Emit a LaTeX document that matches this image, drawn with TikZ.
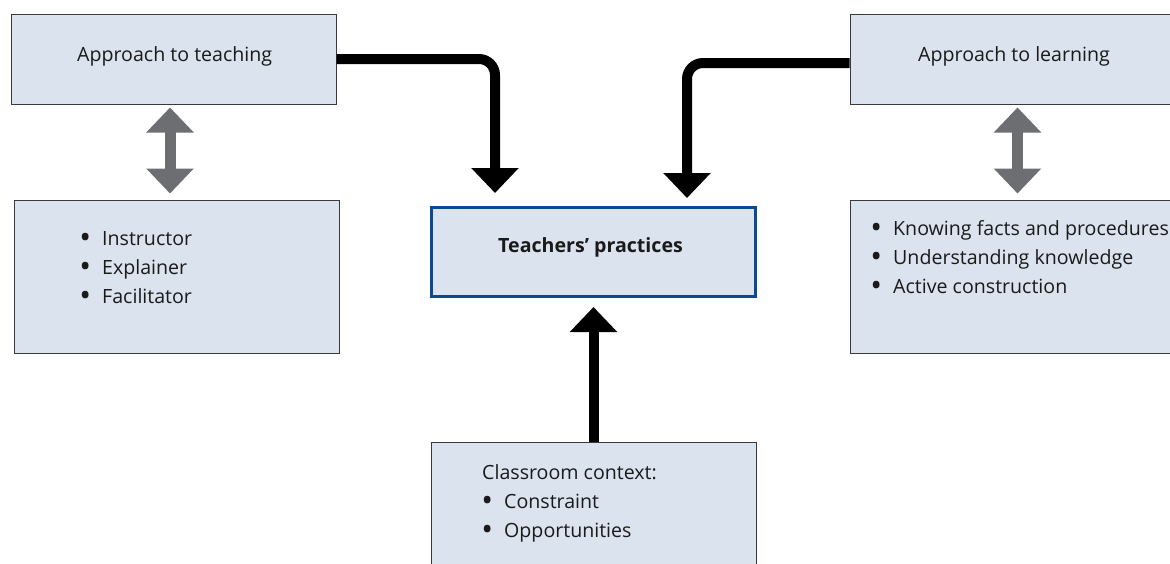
\documentclass[tikz,border=0pt]{standalone}
\usepackage{fontspec}
\setmainfont{Open Sans}
\usetikzlibrary{arrows.meta}
\definecolor{boxfill}{HTML}{DAE3EE}
\definecolor{boxline}{HTML}{3A3A3A}
\definecolor{pracblue}{HTML}{0B4A93}
\definecolor{twogray}{HTML}{6D6E71}
\definecolor{ink}{HTML}{1A1A1A}
\tikzstyle{panel}=[draw=boxline, fill=boxfill, line width=1pt, inner sep=0pt, minimum width=325pt]
\tikzstyle{label}=[anchor=base west, inner sep=0pt, text=ink, font=\fontsize{19.6}{23}\selectfont]
\tikzstyle{feed}=[line width=10pt, rounded corners=16pt, -{Triangle[width=46pt,length=25pt]}]
\tikzstyle{mutual}=[draw=twogray, line width=11pt, {Triangle[width=46pt,length=25pt]}-{Triangle[width=46pt,length=25pt]}]
\newcommand{\bul}{\llap{\raisebox{-3.5pt}{\scalebox{1.6}{\textbullet}}\hspace{11pt}}}

\begin{document}
\begin{tikzpicture}[x=1pt,y=-1pt]
				\clip (0,0) rectangle (1170,563);
				% boxes
				\node[panel, minimum height=90pt] (teach) at (173.5,59) {};
				\node[panel, minimum height=90pt, minimum width=335pt] (learn) at (1017.5,59) {};
				\node[panel, minimum height=153pt] (roles) at (176.5,276.5) {};
				\node[panel, minimum height=153pt, minimum width=335pt] (kinds) at (1017.5,276.5) {};
				\node[panel, draw=pracblue, line width=3pt, minimum width=324pt, minimum height=89pt] (prac) at (593.5,252) {};
				\node[panel, minimum height=160pt] (ctx) at (593.5,522) {};
				% texts
				\node[label] (teachtxt) at (77,61) {Approach to teaching};
				\node[label] (learntxt) at (918,61) {Approach to learning};
				\node[label, font=\fontsize{19.6}{23}\bfseries] (practxt) at (498,252) {Teachers’ practices};
				\node[label] (r1) at (102,245) {\bul Instructor};
				\node[label] (r2) at (102,274) {\bul Explainer};
				\node[label] (r3) at (102,303) {\bul Facilitator};
				\node[label] (k1) at (893,235) {\bul Knowing facts and procedures};
				\node[label] (k2) at (893,264) {\bul Understanding knowledge};
				\node[label] (k3) at (893,293) {\bul Active construction};
				\node[label] (c0) at (482,479) {Classroom context:};
				\node[label] (c1) at (504,508) {\bul Constraint};
				\node[label] (c2) at (504,537) {\bul Opportunities};
				% arrows
				\draw[feed] (teach.east) -| ([xshift=-98.5pt, yshift=13pt]prac.north);
				\draw[feed] ([yshift=-4pt]learn.west) -| ([xshift=93.5pt, yshift=8pt]prac.north);
				\draw[feed, shorten >=9pt] (ctx.north) -- (prac.south);
				\draw[mutual, shorten <=3pt, shorten >=6pt] ([xshift=-3.5pt]teach.south) -- ([xshift=-6.5pt]roles.north);
				\draw[mutual, shorten <=3pt, shorten >=6pt] (learn.south) -- (kinds.north);
			\end{tikzpicture}
\end{document}
